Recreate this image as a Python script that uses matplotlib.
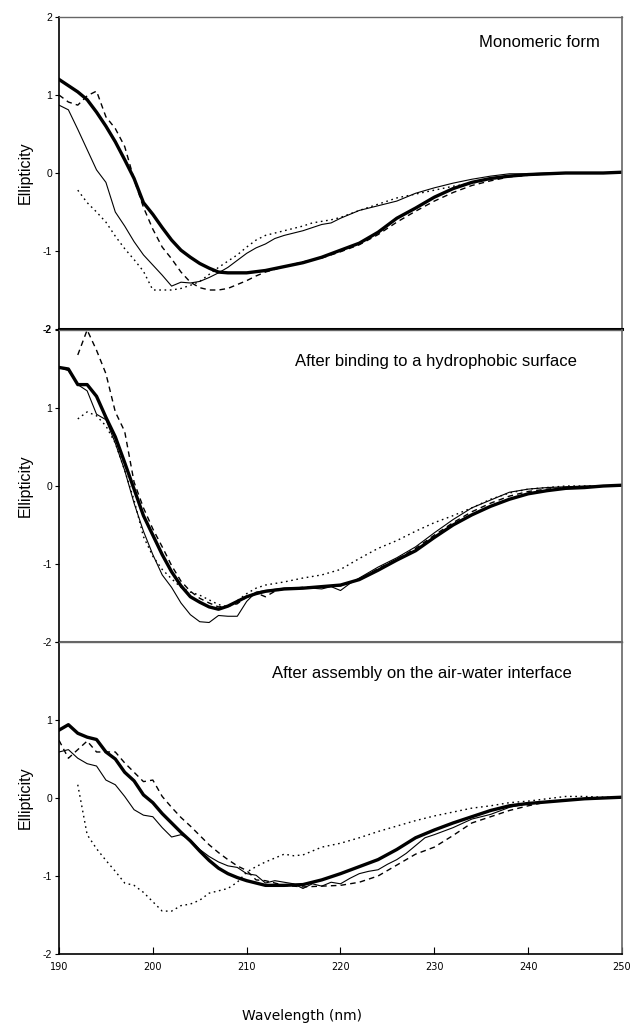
import numpy as np
import matplotlib
matplotlib.use('Agg')
import matplotlib.pyplot as plt

plt.rcParams['font.family'] = ['Liberation Sans', 'DejaVu Sans']

# ---- panel 1: monomeric form ----
p1_thick_x = [190, 191, 192, 193, 194, 195, 196, 197, 198, 199, 200, 201, 202, 203, 204, 205, 206, 207, 208, 209, 210,
              212, 214, 216, 218, 220, 222, 224, 226, 228, 230, 232, 234, 236, 238, 240, 242, 244, 246, 248, 250]
p1_thick_y = [1.20, 1.12, 1.04, 0.94, 0.78, 0.60, 0.40, 0.17, -0.07, -0.38, -0.53, -0.70, -0.86, -0.99, -1.08, -1.16,
              -1.22, -1.27, -1.28, -1.28, -1.28, -1.25, -1.20, -1.15, -1.08, -0.99, -0.90, -0.76, -0.58, -0.45, -0.31,
              -0.20, -0.12, -0.07, -0.04, -0.02, -0.01, 0.0, 0.0, 0.0, 0.01]
p1_thin_x = [190, 191, 192, 193, 194, 195, 196, 197, 198, 199, 200, 201, 202, 203, 204, 205, 206, 207, 208, 209, 210,
             211, 212, 213, 214, 215, 216, 217, 218, 219, 220, 222, 224, 226, 228, 230, 232, 234, 236, 238, 240, 242,
             244, 246, 248, 250]
p1_thin_y = [0.87, 0.81, 0.56, 0.30, 0.04, -0.12, -0.50, -0.68, -0.88, -1.05, -1.18, -1.31, -1.45, -1.40, -1.41, -1.39,
             -1.34, -1.28, -1.21, -1.12, -1.03, -0.96, -0.91, -0.84, -0.80, -0.77, -0.74, -0.70, -0.66, -0.64, -0.58,
             -0.48, -0.42, -0.36, -0.26, -0.19, -0.13, -0.08, -0.04, -0.01, -0.01, 0.0, 0.0, 0.0, 0.0, 0.01]
p1_dash_x = [190, 191, 192, 193, 194, 195, 196, 197, 198, 199, 200, 201, 202, 203, 204, 205, 206, 207, 208, 209, 210,
             211, 212, 214, 216, 218, 220, 222, 224, 226, 228, 230, 232, 234, 236, 238, 240, 242, 244, 246, 248, 250]
p1_dash_y = [1.00, 0.91, 0.87, 0.99, 1.05, 0.72, 0.57, 0.34, -0.08, -0.44, -0.72, -0.95, -1.10, -1.27, -1.40, -1.47,
             -1.50, -1.50, -1.48, -1.43, -1.38, -1.32, -1.27, -1.20, -1.14, -1.09, -1.01, -0.92, -0.79, -0.63, -0.49,
             -0.36, -0.25, -0.16, -0.10, -0.05, -0.03, -0.01, 0.0, 0.0, 0.0, 0.01]
p1_dot_x = [192, 193, 194, 195, 196, 197, 198, 199, 200, 201, 202, 203, 204, 205, 206, 207, 208, 209, 210, 211, 212,
            213, 214, 215, 216, 217, 218, 219, 220, 222, 224, 226, 228, 230, 232, 234, 236, 238, 240, 242, 244, 246,
            248, 250]
p1_dot_y = [-0.22, -0.38, -0.50, -0.63, -0.81, -0.97, -1.11, -1.26, -1.50, -1.50, -1.50, -1.48, -1.44, -1.39, -1.30,
            -1.21, -1.13, -1.05, -0.95, -0.86, -0.80, -0.77, -0.74, -0.71, -0.68, -0.64, -0.62, -0.60, -0.57, -0.48,
            -0.40, -0.32, -0.27, -0.22, -0.17, -0.13, -0.08, -0.04, -0.02, -0.01, 0.0, 0.0, 0.0, 0.01]

# ---- panel 2: after binding to a hydrophobic surface ----
p2_thick_x = [190, 191, 192, 193, 194, 195, 196, 197, 198, 199, 200, 201, 202, 203, 204, 205, 206, 207, 208, 209, 210,
              211, 212, 214, 216, 218, 220, 222, 224, 226, 228, 230, 232, 234, 236, 238, 240, 242, 244, 246, 248, 250]
p2_thick_y = [1.52, 1.50, 1.30, 1.30, 1.15, 0.88, 0.63, 0.30, -0.04, -0.38, -0.63, -0.88, -1.10, -1.28, -1.42, -1.49,
              -1.55, -1.58, -1.54, -1.48, -1.42, -1.38, -1.35, -1.32, -1.31, -1.29, -1.27, -1.20, -1.08, -0.95, -0.83,
              -0.66, -0.50, -0.37, -0.26, -0.17, -0.10, -0.06, -0.03, -0.02, 0.0, 0.01]
p2_thin_x = [190, 191, 192, 193, 194, 195, 196, 197, 198, 199, 200, 201, 202, 203, 204, 205, 206, 207, 208, 209, 210,
             211, 212, 214, 216, 218, 219, 220, 221, 222, 224, 226, 228, 230, 232, 234, 236, 238, 240, 242, 244, 246,
             248, 250]
p2_thin_y = [1.52, 1.48, 1.30, 1.22, 0.92, 0.85, 0.55, 0.20, -0.22, -0.58, -0.88, -1.14, -1.30, -1.50, -1.65, -1.74,
             -1.75, -1.66, -1.67, -1.67, -1.48, -1.36, -1.34, -1.31, -1.30, -1.32, -1.29, -1.34, -1.25, -1.18, -1.04,
             -0.92, -0.78, -0.60, -0.43, -0.28, -0.18, -0.08, -0.04, -0.02, -0.01, 0.0, 0.0, 0.01]
p2_dash_x = [192, 193, 194, 195, 196, 197, 198, 199, 200, 201, 202, 203, 204, 205, 206, 207, 208, 209, 210, 211, 212,
             213, 214, 216, 218, 220, 222, 224, 226, 228, 230, 232, 234, 236, 238, 240, 242, 244, 246, 248, 250]
p2_dash_y = [1.68, 2.00, 1.74, 1.44, 0.95, 0.70, 0.05, -0.28, -0.55, -0.78, -1.02, -1.22, -1.35, -1.44, -1.50, -1.55,
             -1.54, -1.51, -1.42, -1.37, -1.42, -1.35, -1.32, -1.30, -1.29, -1.28, -1.20, -1.06, -0.94, -0.80, -0.63,
             -0.47, -0.33, -0.22, -0.13, -0.07, -0.04, -0.02, -0.01, 0.0, 0.01]
p2_dot_x = [192, 193, 194, 195, 196, 197, 198, 199, 200, 201, 202, 203, 204, 205, 206, 207, 208, 209, 210, 211, 212,
            214, 216, 218, 220, 222, 224, 226, 228, 230, 232, 234, 236, 238, 240, 242, 244, 246, 248, 250]
p2_dot_y = [0.86, 0.95, 0.90, 0.77, 0.55, 0.20, -0.18, -0.65, -0.90, -1.07, -1.19, -1.30, -1.36, -1.40, -1.46, -1.52,
            -1.55, -1.47, -1.38, -1.31, -1.27, -1.23, -1.18, -1.14, -1.07, -0.93, -0.80, -0.70, -0.58, -0.47, -0.38,
            -0.28, -0.17, -0.09, -0.04, -0.02, 0.0, 0.0, 0.0, 0.01]

# ---- panel 3: after assembly on the air-water interface ----
p3_thick_x = [190, 191, 192, 193, 194, 195, 196, 197, 198, 199, 200, 201, 202, 203, 204, 205, 206, 207, 208, 209, 210,
              211, 212, 214, 216, 218, 220, 222, 224, 226, 228, 230, 232, 234, 236, 238, 240, 242, 244, 246, 248, 250]
p3_thick_y = [0.87, 0.94, 0.83, 0.78, 0.75, 0.59, 0.50, 0.33, 0.22, 0.04, -0.06, -0.20, -0.32, -0.44, -0.55, -0.68,
              -0.80, -0.90, -0.97, -1.02, -1.06, -1.09, -1.12, -1.12, -1.11, -1.05, -0.97, -0.88, -0.79, -0.66, -0.51,
              -0.41, -0.32, -0.24, -0.16, -0.10, -0.07, -0.05, -0.03, -0.01, 0.0, 0.01]
p3_thin_x = [190, 191, 192, 193, 194, 195, 196, 197, 198, 199, 200, 201, 202, 203, 204, 205, 206, 207, 208, 209, 210,
             211, 212, 213, 214, 215, 216, 217, 218, 219, 220, 221, 222, 223, 224, 225, 226, 227, 228, 229, 230, 232,
             234, 236, 238, 240, 242, 244, 246, 248, 250]
p3_thin_y = [0.59, 0.62, 0.51, 0.44, 0.41, 0.23, 0.17, 0.02, -0.15, -0.22, -0.24, -0.38, -0.50, -0.47, -0.54, -0.66,
             -0.75, -0.82, -0.87, -0.89, -0.97, -0.99, -1.09, -1.06, -1.08, -1.10, -1.16, -1.10, -1.13, -1.08, -1.10,
             -1.03, -0.97, -0.94, -0.92, -0.85, -0.79, -0.71, -0.61, -0.51, -0.47, -0.38, -0.27, -0.21, -0.12, -0.07,
             -0.05, -0.03, -0.01, 0.0, 0.01]
p3_dash_x = [190, 191, 192, 193, 194, 195, 196, 197, 198, 199, 200, 201, 202, 203, 204, 205, 206, 207, 208, 209, 210,
             211, 212, 214, 216, 218, 220, 222, 224, 226, 228, 230, 232, 234, 236, 238, 240, 242, 244, 246, 248, 250]
p3_dash_y = [0.74, 0.51, 0.62, 0.73, 0.59, 0.59, 0.59, 0.45, 0.33, 0.21, 0.23, 0.02, -0.12, -0.25, -0.36, -0.48,
             -0.60, -0.70, -0.79, -0.87, -0.93, -1.05, -1.06, -1.12, -1.14, -1.13, -1.12, -1.08, -1.00, -0.86, -0.72,
             -0.63, -0.48, -0.32, -0.24, -0.16, -0.10, -0.05, -0.03, -0.01, 0.0, 0.01]
p3_dot_x = [192, 193, 194, 195, 196, 197, 198, 199, 200, 201, 202, 203, 204, 205, 206, 207, 208, 209, 210, 211, 212,
            213, 214, 215, 216, 217, 218, 220, 222, 224, 226, 228, 230, 232, 234, 236, 238, 240, 242, 244, 246, 248,
            250]
p3_dot_y = [0.17, -0.47, -0.65, -0.80, -0.94, -1.09, -1.12, -1.21, -1.33, -1.45, -1.45, -1.38, -1.36, -1.31, -1.22,
            -1.19, -1.16, -1.08, -0.95, -0.88, -0.82, -0.77, -0.72, -0.74, -0.73, -0.68, -0.63, -0.58, -0.51, -0.43,
            -0.36, -0.29, -0.23, -0.18, -0.13, -0.10, -0.06, -0.04, -0.01, 0.02, 0.02, 0.01, 0.01]

titles = ['Monomeric form', 'After binding to a hydrophobic surface', 'After assembly on the air-water interface']
yticks = [-2, -1, 0, 1, 2]
xticks = [190, 200, 210, 220, 230, 240, 250]

panels = [
    (p1_thick_x, p1_thick_y, p1_thin_x, p1_thin_y, p1_dash_x, p1_dash_y, p1_dot_x, p1_dot_y),
    (p2_thick_x, p2_thick_y, p2_thin_x, p2_thin_y, p2_dash_x, p2_dash_y, p2_dot_x, p2_dot_y),
    (p3_thick_x, p3_thick_y, p3_thin_x, p3_thin_y, p3_dash_x, p3_dash_y, p3_dot_x, p3_dot_y),
]

W, H = 631, 1025
fig = plt.figure(figsize=(W / 100, H / 100), dpi=100)

left, right = 59, 622
tops = [17, 330, 642]
ph = 312
title_pos = [(0.961, 0.917), (0.92, 0.90), (0.911, 0.90)]

for i, (tx, ty, nx, ny, dx, dy, ox, oy) in enumerate(panels):
    ax = fig.add_axes([left / W, 1 - (tops[i] + ph) / H, (right - left) / W, ph / H])
    ax.plot(ox, oy, color='black', lw=1.0, dashes=(1.2, 2.6))
    ax.plot(dx, dy, color='black', lw=1.0, dashes=(4, 3))
    ax.plot(nx, ny, color='black', lw=0.8)
    ax.plot(tx, ty, color='black', lw=2.4, solid_joinstyle='round')
    ax.set_xlim(190, 250)
    ax.set_ylim(-2, 2)
    ax.set_yticks(yticks)
    # plain hyphen as in the original; the top "2" is shared with the panel above
    labels = ['%d' % v if v >= 0 else '-%d' % abs(v) for v in yticks]
    if i > 0:
        labels[-1] = ''
    ax.set_yticklabels(labels)
    ax.tick_params(axis='y', direction='out', length=3, width=0.8, labelsize=7.5, pad=2)
    if i == 0:
        ax.get_yticklabels()[0].set_fontweight('bold')
    ax.set_ylabel('Ellipticity', fontsize=11.5, labelpad=7)
    ax.text(title_pos[i][0], title_pos[i][1], titles[i], transform=ax.transAxes,
            ha='right', va='center', fontsize=12)
    ax.spines['left'].set_color('black')
    ax.spines['left'].set_linewidth(1.2)
    ax.spines['right'].set_color('#666666')
    ax.spines['right'].set_linewidth(1.2)
    ax.spines['top'].set_color('#666666')
    ax.spines['top'].set_linewidth(1.0)
    if i == 0:
        ax.spines['bottom'].set_color('black')
        ax.spines['bottom'].set_linewidth(2.2)
    elif i == 1:
        ax.spines['bottom'].set_color('#666666')
        ax.spines['bottom'].set_linewidth(1.5)
    else:
        ax.spines['bottom'].set_color('black')
        ax.spines['bottom'].set_linewidth(1.2)
    if i < 2:
        ax.set_xticks([])
    else:
        ax.set_xticks(xticks)
        ax.tick_params(axis='x', direction='in', length=5, width=0.8, labelsize=7, pad=6)
        for lab in ax.get_xticklabels():
            lab.set_family('DejaVu Sans')
        ax.set_xlabel('Wavelength (nm)', fontsize=10, family='DejaVu Sans', va='center')
        ax.xaxis.set_label_coords(0.432, -0.199)

fig.savefig('out.png', dpi=100)
